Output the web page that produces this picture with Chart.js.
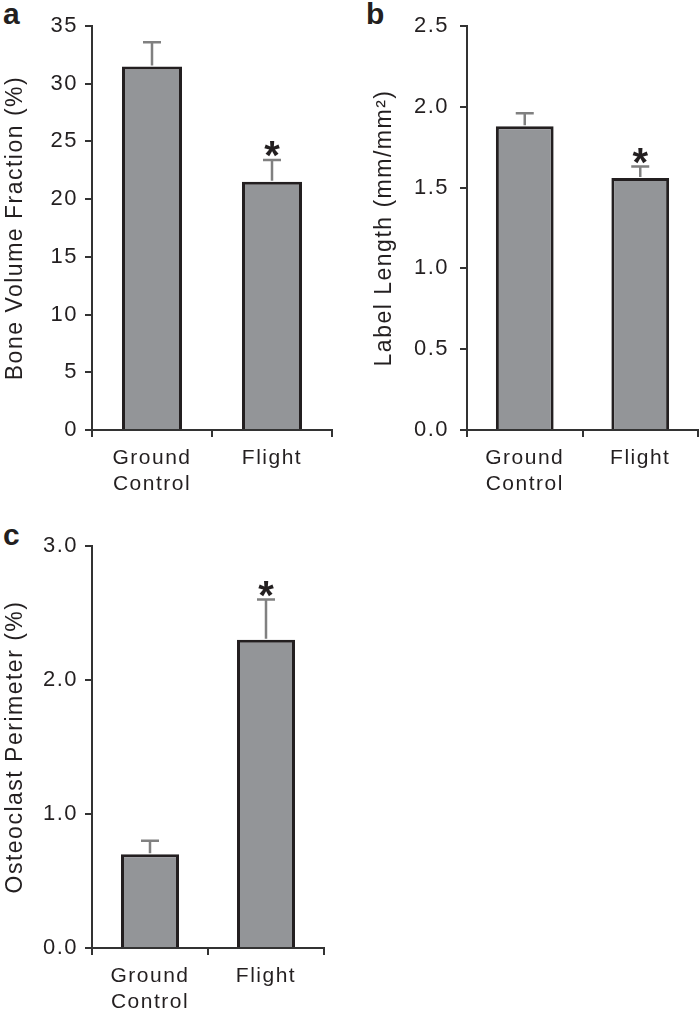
<!DOCTYPE html>
<html>
<head>
<meta charset="utf-8">
<script src="https://cdn.jsdelivr.net/npm/chart.js@4"></script>
<style>
  body { margin: 0; background: #fff; width: 700px; height: 1018px; position: relative; overflow: hidden; }
  canvas { position: absolute; }
  .tag { position: absolute; font: bold 30px "Liberation Sans", Arial, sans-serif; color: #231f20; line-height: 1; }
</style>
</head>
<body>
<div class="tag" style="left:3px;top:-1px">a</div>
<div class="tag" style="left:366px;top:-1px">b</div>
<div class="tag" style="left:3px;top:520px">c</div>
<canvas id="chartA" width="340" height="505" style="left:0;top:0"></canvas>
<canvas id="chartB" width="345" height="505" style="left:355px;top:0"></canvas>
<canvas id="chartC" width="340" height="498" style="left:0;top:520px"></canvas>
<script>
const groups = [['Ground', 'Control'], 'Flight'];

const boneVolume = [31.5, 21.5];
const boneVolumeErr = [2.1, 1.9];
const boneVolumeSig = [false, true];

const labelLength = [1.88, 1.56];
const labelLengthErr = [0.08, 0.07];
const labelLengthSig = [false, true];

const osteoclast = [0.70, 2.30];
const osteoclastErr = [0.10, 0.30];
const osteoclastSig = [false, true];

Chart.defaults.font.family = '"Liberation Sans", Arial, sans-serif';
Chart.defaults.color = '#231f20';

// the figure's lettering runs a little wider than Arial
const spacing = {
    id: 'spacing',
    beforeUpdate(chart) { chart.ctx.letterSpacing = '1.5px'; },
    beforeDraw(chart) { chart.ctx.letterSpacing = '1.5px'; }
};

// error bars + significance stars, drawn from the dataset through the scales
const errBars = {
    id: 'errBars',
    afterDatasetsDraw(chart) {
        const ds = chart.data.datasets[0];
        const meta = chart.getDatasetMeta(0);
        const y = chart.scales.y;
        const ctx = chart.ctx;
        ctx.save();
        ctx.letterSpacing = '0px';
        meta.data.forEach((bar, i) => {
            const top = y.getPixelForValue(ds.data[i] + ds.errors[i]);
            const base = y.getPixelForValue(ds.data[i]);
            ctx.strokeStyle = '#808080';
            ctx.lineWidth = 2.5;
            ctx.beginPath();
            ctx.moveTo(bar.x, base - 1);
            ctx.lineTo(bar.x, top);
            ctx.moveTo(bar.x - 9, top);
            ctx.lineTo(bar.x + 9, top);
            ctx.stroke();
            if (ds.sig[i]) {
                ctx.fillStyle = '#231f20';
                ctx.font = 'bold 40px "Liberation Sans", Arial, sans-serif';
                ctx.textAlign = 'center';
                ctx.textBaseline = 'alphabetic';
                ctx.fillText('*', bar.x, top + 9);
            }
        });
        ctx.restore();
    }
};

function makeChart(id, values, errors, sig, opts) {
    const canvas = document.getElementById(id);
    return new Chart(canvas.getContext('2d'), {
        type: 'bar',
        data: {
            labels: groups,
            datasets: [{
                data: values, errors: errors, sig: sig,
                backgroundColor: '#939598', borderColor: '#231f20', borderWidth: 3,
                barPercentage: 0.5, categoryPercentage: 1
            }]
        },
        options: {
            responsive: false, animation: false,
            layout: { padding: { top: 26, left: opts.padLeft, right: opts.padRight, bottom: 0 } },
            plugins: { legend: { display: false }, tooltip: { enabled: false } },
            scales: {
                x: {
                    grid: { offset: true, drawOnChartArea: false, color: '#333', lineWidth: 2, tickLength: 7 },
                    border: { color: '#333', width: 2 },
                    ticks: { font: { size: 21, lineHeight: 1.25 }, padding: 8, maxRotation: 0 },
                    afterFit: s => { s.height = opts.xHeight; }
                },
                y: {
                    min: 0, max: opts.max,
                    grid: { drawOnChartArea: false, color: '#333', lineWidth: 2, tickLength: 7 },
                    border: { color: '#333', width: 2 },
                    ticks: { stepSize: opts.step, font: { size: 22 }, padding: opts.tickPad, callback: opts.fmt },
                    title: { display: true, text: opts.title, font: { size: 23 }, padding: { top: 2, bottom: 0 } },
                    afterFit: s => { s.width = opts.yWidth; }
                }
            }
        },
        plugins: [spacing, errBars]
    });
}

makeChart('chartA', boneVolume, boneVolumeErr, boneVolumeSig, {
    max: 35, step: 5, fmt: v => v, title: 'Bone Volume Fraction (%)',
    padLeft: 0, padRight: 8, yWidth: 92, xHeight: 75, tickPad: 7
});
makeChart('chartB', labelLength, labelLengthErr, labelLengthSig, {
    max: 2.5, step: 0.5, fmt: v => v.toFixed(1), title: 'Label Length (mm/mm²)',
    padLeft: 14, padRight: 2, yWidth: 98, xHeight: 75, tickPad: 11
});
makeChart('chartC', osteoclast, osteoclastErr, osteoclastSig, {
    max: 3, step: 1, fmt: v => v.toFixed(1), title: 'Osteoclast Perimeter (%)',
    padLeft: 0, padRight: 16, yWidth: 92, xHeight: 70, tickPad: 7
});
</script>
</body>
</html>
